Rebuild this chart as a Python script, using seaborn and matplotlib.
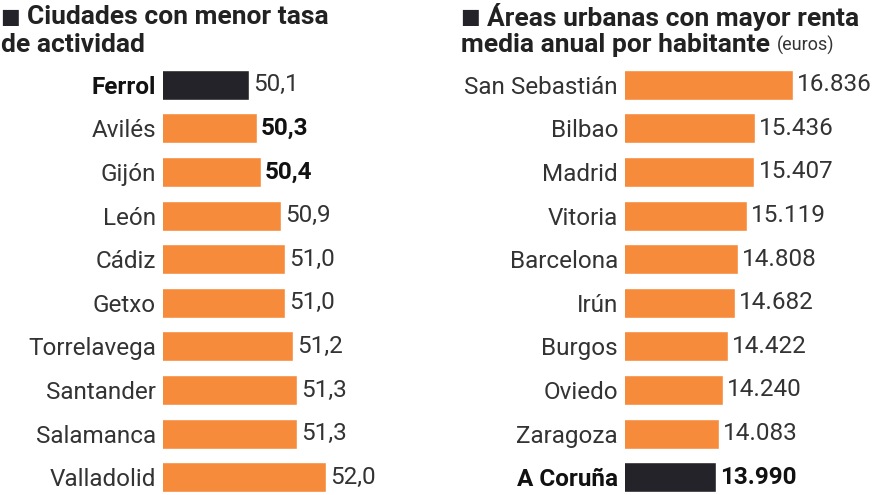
import matplotlib
matplotlib.use("Agg")
import matplotlib.pyplot as plt
import seaborn as sns
import pandas as pd

# Ciudades con menor tasa de actividad
ciudades = ["Ferrol", "Avilés", "Gijón", "León", "Cádiz", "Getxo",
            "Torrelavega", "Santander", "Salamanca", "Valladolid"]
tasa = [50.1, 50.3, 50.4, 50.9, 51.0, 51.0, 51.2, 51.3, 51.3, 52.0]
tasa_labels = ["50,1", "50,3", "50,4", "50,9", "51,0", "51,0",
               "51,2", "51,3", "51,3", "52,0"]

# Áreas urbanas con mayor renta media anual por habitante
areas = ["San Sebastián", "Bilbao", "Madrid", "Vitoria", "Barcelona",
         "Irún", "Burgos", "Oviedo", "Zaragoza", "A Coruña"]
renta = [16836, 15436, 15407, 15119, 14808, 14682, 14422, 14240, 14083, 13990]
renta_labels = ["16.836", "15.436", "15.407", "15.119", "14.808",
                "14.682", "14.422", "14.240", "14.083", "13.990"]

ORANGE = "#F68B3C"
DARK = "#25232A"
TEXT = "#333333"
FS = 17.5

sns.set_theme(style="white")
plt.rcParams["font.family"] = ["Roboto", "DejaVu Sans"]

fig = plt.figure(figsize=(8.8, 4.95), dpi=100)


def panel(rect, names, values, labels, xlim, highlight, bold_names, bold_vals):
    ax = fig.add_axes(rect)
    df = pd.DataFrame({"name": names, "value": values})
    colors = [DARK if n == highlight else ORANGE for n in names]
    sns.barplot(data=df, x="value", y="name", hue="name", palette=colors,
                legend=False, width=0.69, ax=ax, saturation=1)
    ax.set_xlim(*xlim)
    ax.set_ylim(9.5, -0.5)
    ax.set_xlabel("")
    ax.set_ylabel("")
    ax.set_xticks([])
    ax.set_yticks(range(len(names)))
    ax.set_yticklabels(names, fontsize=FS, color=TEXT)
    for t in ax.get_yticklabels():
        if t.get_text() in bold_names:
            t.set_fontweight("bold")
            t.set_color("#111111")
    ax.tick_params(axis="y", length=0, pad=5)
    sns.despine(ax=ax, left=True, bottom=True)
    for i, (v, lab) in enumerate(zip(values, labels)):
        ax.annotate(lab, (v, i), xytext=(3, 0), textcoords="offset points",
                    va="center", ha="left", fontsize=FS,
                    fontweight="bold" if i in bold_vals else "normal",
                    color="#111111" if i in bold_vals else TEXT)
    return ax


bottom = -4 / 495
height = 436 / 495
panel([163 / 880, bottom, 277 / 880, height], ciudades, tasa, tasa_labels,
      (47.98, 47.98 + 277 / 40.5), "Ferrol", ["Ferrol"], [1, 2])
panel([625 / 880, bottom, 255 / 880, height], areas, renta, renta_labels,
      (10627, 10627 + 255 / 0.02706), "A Coruña", ["A Coruña"], [9])

# titles
TS = 19
fig.text(0 / 880, 1 - 17 / 495, "■", fontsize=15, color=DARK, va="center",
         family=["DejaVu Sans"])
fig.text(27 / 880, 1 - 17 / 495, "Ciudades con menor tasa", fontsize=TS,
         fontweight="bold", color="#222222", va="center")
fig.text(1 / 880, 1 - 45 / 495, "de actividad", fontsize=TS,
         fontweight="bold", color="#222222", va="center")

fig.text(460 / 880, 1 - 17 / 495, "■", fontsize=15, color=DARK, va="center",
         family=["DejaVu Sans"])
fig.text(487 / 880, 1 - 17 / 495, "Áreas urbanas con mayor renta",
         fontsize=TS, fontweight="bold", color="#222222", va="center")
t = fig.text(461 / 880, 1 - 45 / 495, "media anual por habitante ",
             fontsize=TS, fontweight="bold", color="#222222", va="center")
fig.canvas.draw()
bb = t.get_window_extent()
fig.text(bb.x1 / 880, 1 - 45 / 495, "(euros)", fontsize=13,
         color="#333333", va="center")

fig.savefig("out.png", dpi=100)
